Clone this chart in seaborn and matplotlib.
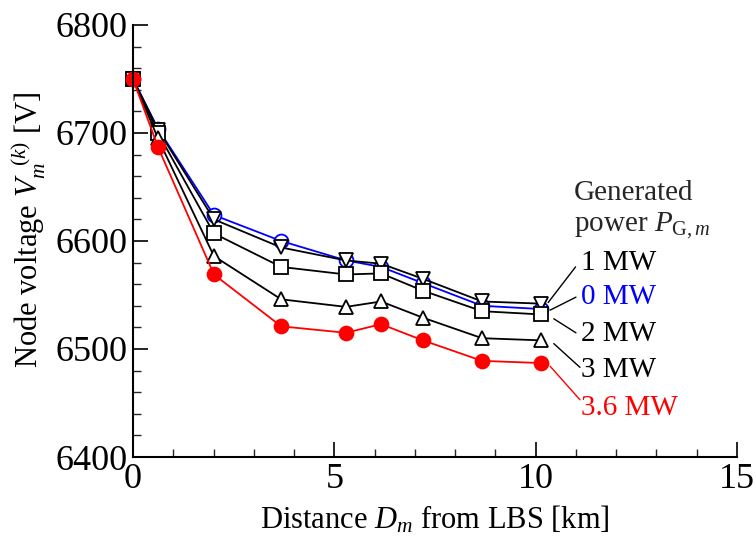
import matplotlib
matplotlib.use("Agg")
import matplotlib.pyplot as plt
import seaborn as sns
import pandas as pd
from matplotlib.ticker import MultipleLocator

sns.set_style("white")
plt.rcParams['font.family'] = ['Liberation Serif', 'DejaVu Serif']
plt.rcParams['mathtext.fontset'] = 'custom'
plt.rcParams['mathtext.rm'] = 'Liberation Serif'
plt.rcParams['mathtext.it'] = 'Liberation Serif:italic'

distance_km = [0.0, 0.62, 2.01, 3.68, 5.29, 6.16, 7.20, 8.67, 10.13]
v_0mw = [6750, 6704, 6624, 6600, 6582, 6576, 6561, 6540, 6537]
v_1mw = [6750, 6703, 6620, 6594, 6582, 6579, 6565, 6544, 6542]
v_2mw = [6750, 6700, 6607, 6576, 6569, 6570, 6554, 6535, 6532]
v_3mw = [6750, 6695, 6586, 6546, 6539, 6544, 6529, 6510, 6508]
v_36mw = [6750, 6687, 6569, 6521, 6515, 6523, 6508, 6489, 6487]

series_labels = ["0 MW", "1 MW", "2 MW", "3 MW", "3.6 MW"]
series_values = [v_0mw, v_1mw, v_2mw, v_3mw, v_36mw]
series_colors = ["#0000ff", "black", "black", "black", "#ff0000"]
series_markers = ["o", "v", "s", "^", "o"]
series_fill = ["white", "white", "white", "white", "#ff0000"]

fig = plt.figure(figsize=(7.55, 5.38), dpi=100)
ax = fig.add_axes([133/755, 1 - 457/538, (737 - 133)/755, (457 - 25)/538])

for lab, vals, col, mk, fc in zip(series_labels, series_values, series_colors,
                                  series_markers, series_fill):
    df = pd.DataFrame({"d": distance_km, "v": vals})
    sns.lineplot(data=df, x="d", y="v", ax=ax, color=col, marker=mk,
                 markersize=10, markerfacecolor=fc, markeredgecolor=col,
                 markeredgewidth=1.3, linewidth=1.3, sort=False,
                 estimator=None, legend=False)

ax.set_xlim(0, 15)
ax.set_ylim(6400, 6800)
ax.xaxis.set_major_locator(MultipleLocator(5))
ax.xaxis.set_minor_locator(MultipleLocator(1))
ax.yaxis.set_major_locator(MultipleLocator(100))
ax.yaxis.set_minor_locator(MultipleLocator(20))
ax.tick_params(which='major', direction='in', length=11, width=1.2,
               labelsize=26, pad=4, colors='black')
ax.tick_params(which='minor', direction='in', length=6, width=1.0)
ax.tick_params(axis='x', which='both', bottom=True, top=False)
ax.tick_params(axis='y', which='both', left=True, right=False)
for s in ['top', 'right']:
    ax.spines[s].set_visible(False)
for s in ['left', 'bottom']:
    ax.spines[s].set_linewidth(1.5)
    ax.spines[s].set_color('black')
for ln in ax.lines:
    ln.set_clip_on(False)

ax.set_xlabel(r"Distance $D_m$ from LBS [km]", fontsize=22, labelpad=6,
              color='black')
ax.set_ylabel(r"Node voltage $V_m^{\ \ (k)}$ [V]", fontsize=22, labelpad=4,
              color='black')
ax.yaxis.set_label_coords(-0.14, 0.525)

# Legend title
ax.text(10.95, 6644, "Generated", fontsize=21, ha='left', va='center')
ax.text(10.95, 6614, r"power $P_{\mathrm{G},m}$", fontsize=21, ha='left', va='center')

# Labels with leader lines
label_specs = [
    ("1 MW", "black", (10.31, 6543), (10.99, 6576), (11.12, 6580)),
    ("0 MW", "#0000ff", (10.36, 6536), (11.0, 6548), (11.12, 6548)),
    ("2 MW", "black", (10.45, 6528), (11.0, 6515), (11.12, 6514)),
    ("3 MW", "black", (10.45, 6505), (11.1, 6483), (11.12, 6481)),
    ("3.6 MW", "#ff0000", (10.36, 6484), (11.1, 6453), (11.12, 6445)),
]
for txt, col, p0, p1, tp in label_specs:
    linecol = "#ff0000" if txt == "3.6 MW" else "black"
    ax.plot([p0[0], p1[0]], [p0[1], p1[1]], color=linecol, linewidth=1.0)
    ax.text(tp[0], tp[1], txt, color=col, fontsize=21, ha='left', va='center')

fig.savefig("out.png", dpi=100)
